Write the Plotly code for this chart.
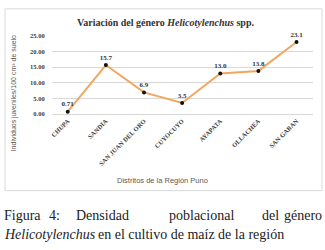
import plotly.graph_objects as go

districts = ["CHUPA", "SANDIA", "SAN JUAN DEL ORO", "CUYOCUYO", "AYAPATA", "OLLACHEA", "SAN GABAN"]
values = [0.71, 15.7, 6.9, 3.5, 13.0, 13.8, 23.1]
value_labels = ["0.71", "15.7", "6.9", "3.5", "13.0", "13.8", "23.1"]
y_ticks = [0, 5, 10, 15, 20, 25]
y_tick_labels = ["0.00", "5.00", "10.00", "15.00", "20.00", "25.00"]

W, H = 325, 250
def px(x):
    return x / W
def py(y):
    return 1 - y / H

serif = "Liberation Serif, Times New Roman, serif"
sans = "Liberation Sans, Arial, sans-serif"

fig = go.Figure()
fig.add_trace(go.Scatter(
    x=districts, y=values, mode="lines+markers+text",
    text=value_labels, textposition="top center",
    textfont=dict(family=serif, size=7, color="#333333", weight="bold"),
    line=dict(color="#F2A65E", width=2),
    marker=dict(color="#111111", size=4),
    cliponaxis=False, showlegend=False, hoverinfo="skip",
))

ann = []
ann.append(dict(x=px(165), y=py(19), xref="paper", yref="paper",
                text="<b>Variación del género <i>Helicotylenchus</i> spp.</b>",
                showarrow=False, xanchor="center", yanchor="middle",
                font=dict(family=serif, size=10, color="#333333")))
ann.append(dict(x=px(12), y=py(92), xref="paper", yref="paper",
                text="Individuos juveniles/100 cm³ de suelo", textangle=-90,
                showarrow=False, xanchor="center", yanchor="middle",
                font=dict(family=sans, size=7, color="#595959")))
ann.append(dict(x=px(161), y=py(182), xref="paper", yref="paper",
                text="Distritos de la Región Puno",
                showarrow=False, xanchor="center", yanchor="middle",
                font=dict(family=sans, size=7.5, color="#595959")))
# caption line 1: justified words
caption_words = ["Figura", "4:", "Densidad", "poblacional", "del", "género"]
caption_x = [21, 52.5, 101, 200.5, 270, 324]
caption_anchor = ["center", "center", "center", "center", "center", "right"]
for w, xx, a in zip(caption_words, caption_x, caption_anchor):
    ann.append(dict(x=px(xx), y=py(218), xref="paper", yref="paper", text=w,
                    showarrow=False, xanchor=a, yanchor="middle",
                    font=dict(family=serif, size=14, color="#222222")))
ann.append(dict(x=px(0), y=py(237), xref="paper", yref="paper",
                text="<i>Helicotylenchus</i>", showarrow=False,
                xanchor="left", yanchor="middle",
                font=dict(family=serif, size=14, color="#222222")))
ann.append(dict(x=px(95), y=py(237), xref="paper", yref="paper",
                text="en el cultivo de maíz de la región", showarrow=False,
                xanchor="left", yanchor="middle",
                font=dict(family=serif, size=14, color="#222222")))

fig.update_layout(
    width=W, height=H, margin=dict(l=0, r=0, t=0, b=0),
    font=dict(family=serif),
    paper_bgcolor="white", plot_bgcolor="white",
    annotations=ann, hovermode=False,
    shapes=[dict(type="rect", xref="paper", yref="paper",
                 x0=px(3), x1=px(322), y0=py(192), y1=py(5),
                 line=dict(color="#D9D9D9", width=1), fillcolor="rgba(0,0,0,0)")],
    xaxis=dict(domain=[px(50), px(312.5)], tickangle=-45, showgrid=False,
               showline=True, linecolor="#D9D9D9", ticks="",
               tickfont=dict(family=serif, size=6.5, color="#404040", weight="bold")),
    yaxis=dict(domain=[py(113), py(33)], range=[0, 25], tickvals=y_ticks,
               ticktext=y_tick_labels, showgrid=True, gridcolor="#D9D9D9",
               zeroline=False, ticks="", ticklabelstandoff=6,
               tickfont=dict(family=serif, size=6.5, color="#404040", weight="bold")),
)
fig.write_html(
    "out.html",
    config={"displayModeBar": False, "staticPlot": True},
    post_script="document.body.style.margin='0';document.body.style.padding='0';"
                "document.body.style.overflow='hidden';"
                "document.documentElement.style.overflow='hidden';",
)
